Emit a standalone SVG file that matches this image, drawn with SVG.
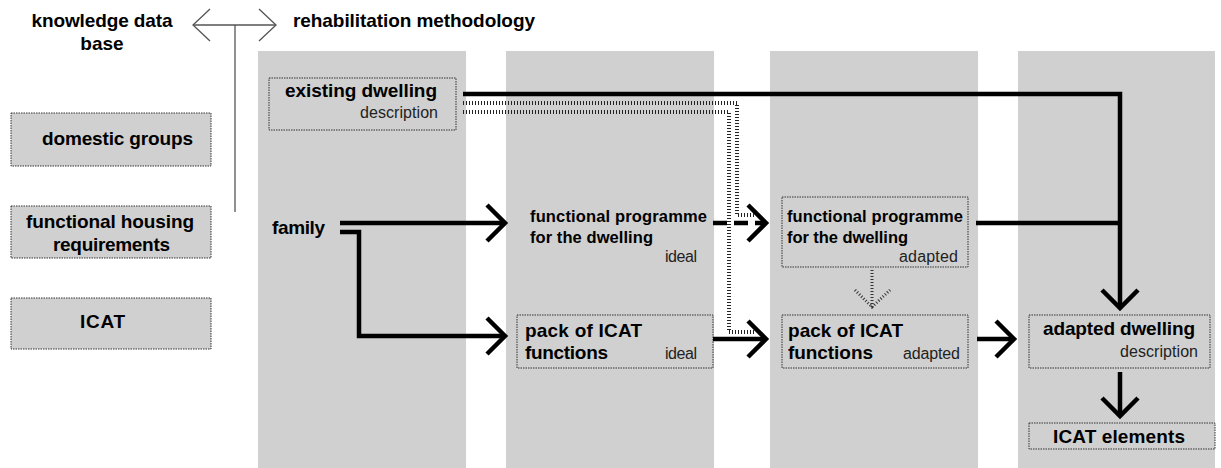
<svg xmlns="http://www.w3.org/2000/svg" width="1221" height="468" viewBox="0 0 1221 468">
<style>
.col{fill:#d0d0d0}
.box{fill:#d0d0d0;stroke:#333;stroke-width:1;stroke-dasharray:1.5 1}
.t{font-family:"Liberation Sans",Arial,sans-serif;font-weight:bold;font-size:19px;fill:#000}
.tm{font-family:"Liberation Sans",Arial,sans-serif;font-weight:bold;font-size:16.5px;fill:#000}
.s{font-family:"Liberation Sans",Arial,sans-serif;font-size:16px;fill:#222}
.thick{fill:none;stroke:#000;stroke-width:4.5}
.thin{fill:none;stroke:#555;stroke-width:1.3}
.hatch{fill:none;stroke:#222;stroke-width:4;stroke-dasharray:1 2}
.hatch2{fill:none;stroke:#333;stroke-width:3;stroke-dasharray:1 2}
</style>
<defs>
<marker id="ah" markerUnits="userSpaceOnUse" markerWidth="40" markerHeight="40" refX="0" refY="0" orient="auto" overflow="visible">
<path d="M-18,-18 L0,0 L-18,18" fill="none" stroke="#000" stroke-width="4.5"/>
</marker>
<marker id="ahThin" markerUnits="userSpaceOnUse" markerWidth="40" markerHeight="40" refX="0" refY="0" orient="auto-start-reverse" overflow="visible">
<path d="M-17,-16 L0,0 L-17,16" fill="none" stroke="#555" stroke-width="1.3"/>
</marker>
</defs>
<rect width="1221" height="468" fill="#fff"/>
<g id="columns">
<rect class="col" x="258" y="51" width="208" height="417"/>
<rect class="col" x="506" y="51" width="208" height="417"/>
<rect class="col" x="770" y="51" width="208" height="417"/>
<rect class="col" x="1018" y="51" width="197" height="417"/>
</g>
<g id="header">
<text class="t" x="102" y="27" text-anchor="middle" textLength="141">knowledge data</text>
<text class="t" x="102" y="50" text-anchor="middle">base</text>
<text class="t" x="293" y="27" textLength="242">rehabilitation methodology</text>
<line class="thin" x1="193" y1="25" x2="276" y2="25" marker-start="url(#ahThin)" marker-end="url(#ahThin)"/>
<line class="thin" x1="235" y1="25" x2="235" y2="212"/>
</g>
<g id="domestic-groups">
<rect class="box" x="11" y="113" width="200" height="53"/>
<text class="t" x="42" y="145" textLength="151">domestic groups</text>
</g>
<g id="functional-housing">
<rect class="box" x="11" y="206" width="200" height="52"/>
<text class="t" x="26" y="228" textLength="168">functional housing</text>
<text class="t" x="53" y="251" textLength="117">requirements</text>
</g>
<g id="icat">
<rect class="box" x="11" y="298" width="200" height="51"/>
<text class="t" x="80" y="328" textLength="45">ICAT</text>
</g>
<g id="existing-dwelling">
<rect class="box" x="269" y="78" width="187" height="52"/>
<text class="t" x="285" y="97" textLength="152">existing dwelling</text>
<text class="s" x="360" y="118" textLength="78">description</text>
</g>
<g id="family">
<text class="t" x="272" y="234" textLength="53">family</text>
</g>
<g id="fp-ideal">
<text class="tm" x="530" y="222" textLength="177">functional programme</text>
<text class="tm" x="530" y="243" textLength="123">for the dwelling</text>
<text class="s" x="665" y="262" textLength="32">ideal</text>
</g>
<g id="fp-adapted">
<rect class="box" x="782" y="197" width="186" height="70"/>
<text class="tm" x="787" y="222" textLength="176">functional programme</text>
<text class="tm" x="787" y="243" textLength="121">for the dwelling</text>
<text class="s" x="899" y="262" textLength="59">adapted</text>
</g>
<g id="pack-ideal">
<rect class="box" x="517" y="315" width="196" height="53"/>
<text class="t" x="525" y="337" textLength="117">pack of ICAT</text>
<text class="t" x="525" y="359" textLength="83">functions</text>
<text class="s" x="665" y="359" textLength="32">ideal</text>
</g>
<g id="pack-adapted">
<rect class="box" x="782" y="315" width="186" height="53"/>
<text class="t" x="788" y="337" textLength="115">pack of ICAT</text>
<text class="t" x="788" y="359" textLength="85">functions</text>
<text class="s" x="903" y="359" textLength="57">adapted</text>
</g>
<g id="adapted-dwelling">
<rect class="box" x="1029" y="315" width="181" height="53"/>
<text class="t" x="1043" y="335" textLength="152">adapted dwelling</text>
<text class="s" x="1120" y="357" textLength="78">description</text>
</g>
<g id="icat-elements">
<rect class="box" x="1029" y="423" width="186" height="26"/>
<text class="t" x="1053" y="443" textLength="132">ICAT elements</text>
</g>
<g id="connectors">
<polyline class="thick" points="463,94 1120,94 1120,308" marker-end="url(#ah)"/>
<line class="thick" x1="976" y1="223" x2="1120" y2="223"/>
<line class="thick" x1="340" y1="223" x2="505" y2="223" marker-end="url(#ah)"/>
<polyline class="thick" points="340,232 359,232 359,336 505,336" marker-end="url(#ah)"/>
<line class="thick" x1="713" y1="223" x2="766" y2="223" stroke-dasharray="14 7" marker-end="url(#ah)"/>
<line class="thick" x1="713" y1="339" x2="766" y2="339" marker-end="url(#ah)"/>
<line class="thick" x1="977" y1="339" x2="1014" y2="339" marker-end="url(#ah)"/>
<line class="thick" x1="1120" y1="372" x2="1120" y2="416" marker-end="url(#ah)"/>
<polyline class="hatch" points="463,103 737,103 737,215 755,215"/>
<polyline class="hatch" points="463,112 729,112 729,332 755,332"/>
<line class="hatch2" x1="872" y1="270" x2="872" y2="308"/>
<polyline class="hatch2" points="855,290 872,307 890,290"/>
</g>
</svg>
